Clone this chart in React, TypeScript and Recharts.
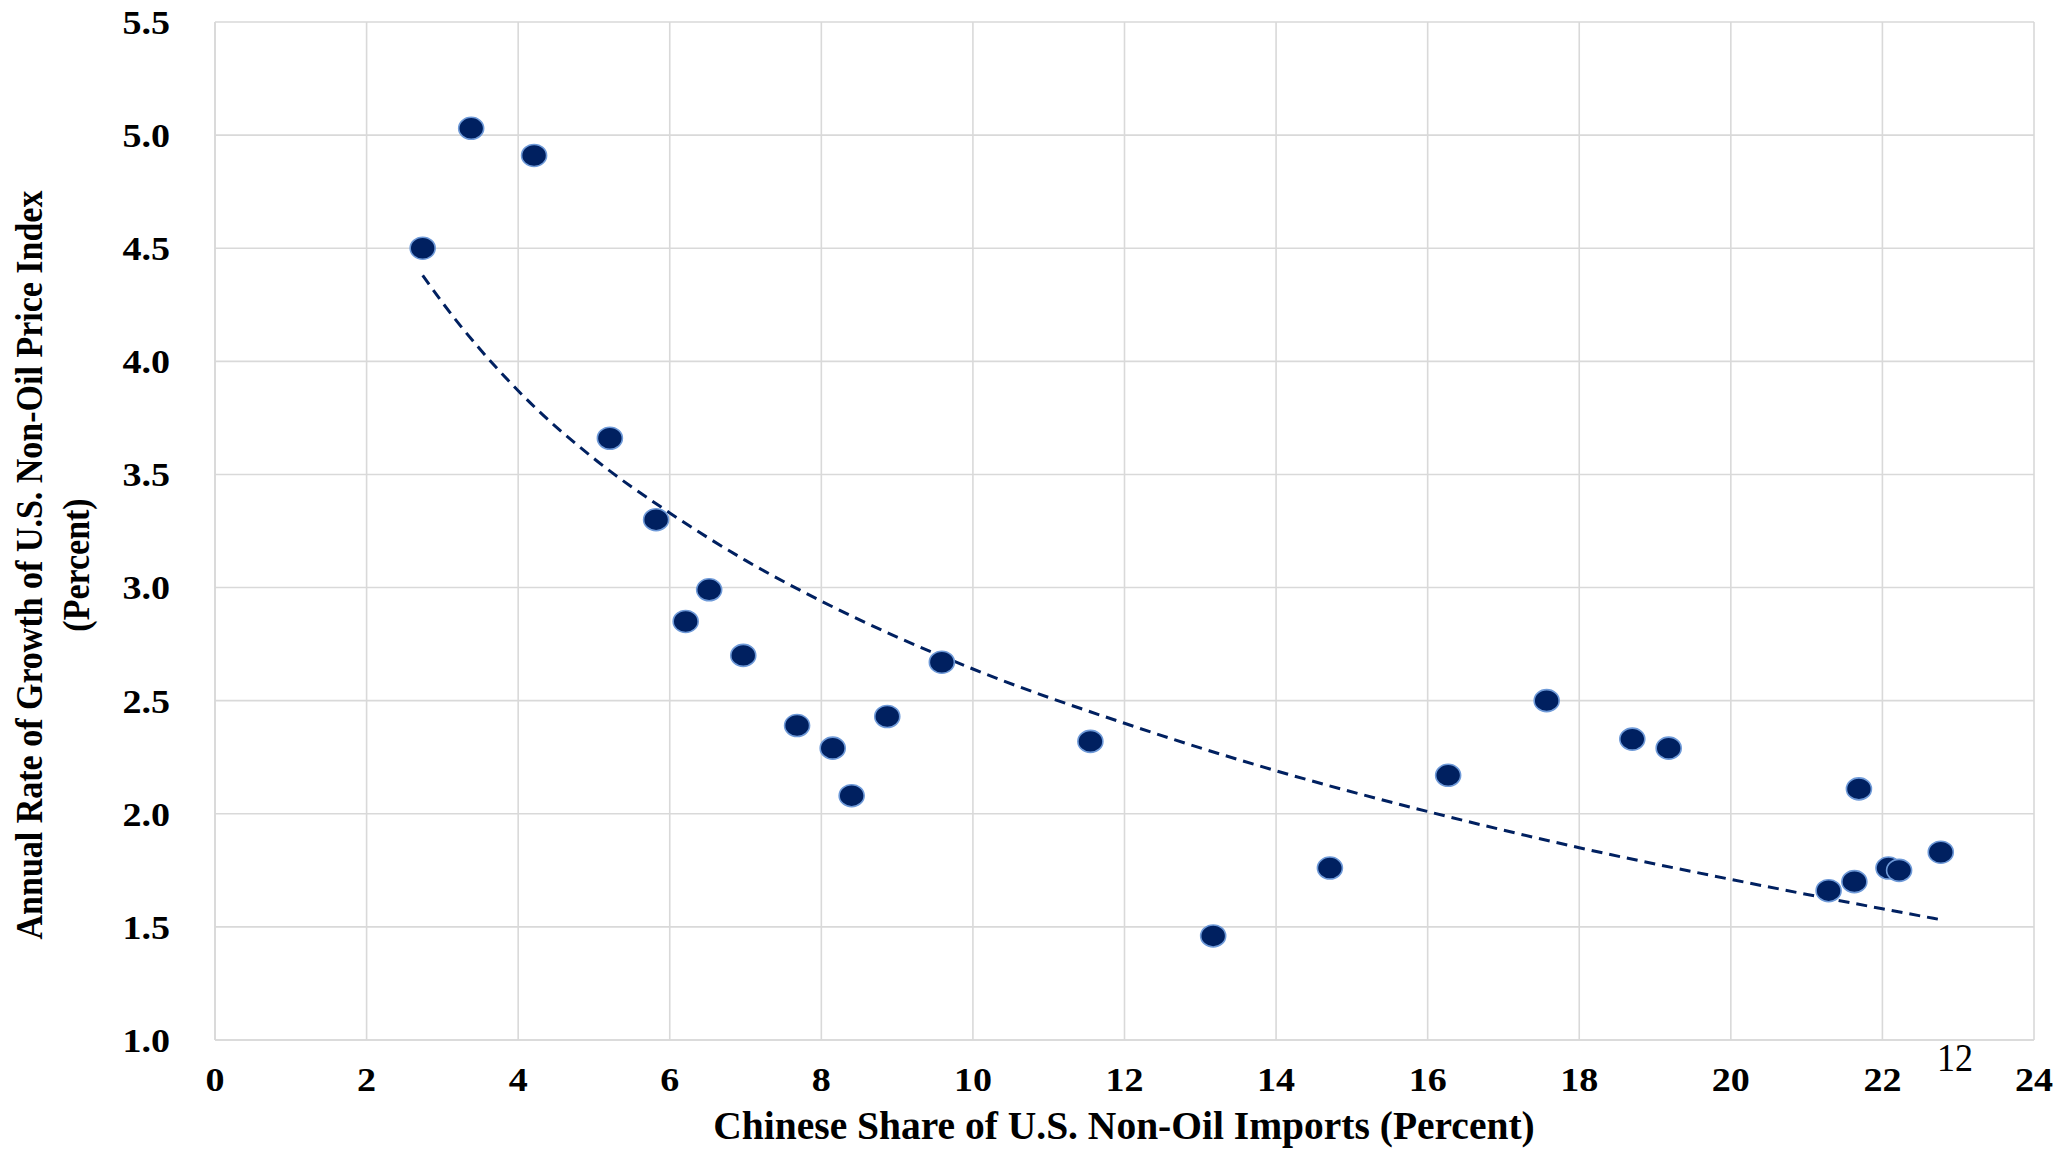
import React from 'react'
import {
  ScatterChart,
  Scatter,
  XAxis,
  YAxis,
  CartesianGrid,
  Label,
} from 'recharts'

// Chinese share of U.S. non-oil imports (%) vs. growth of non-oil price index (%)
const shareX = [
  2.74, 3.38, 4.21, 5.21, 5.82, 6.21, 6.52, 6.97, 7.68, 8.15, 8.4, 8.87, 9.59,
  11.55, 13.17, 14.71, 16.27, 17.57, 18.7, 19.18, 21.29, 21.63, 21.69, 22.08,
  22.22, 22.77,
]
const growthY = [
  4.5, 5.03, 4.91, 3.66, 3.3, 2.85, 2.99, 2.7, 2.39, 2.29, 2.08, 2.43, 2.67,
  2.32, 1.46, 1.76, 2.17, 2.5, 2.33, 2.29, 1.66, 1.7, 2.11, 1.76, 1.75, 1.83,
]

// dashed trend line
const trendX = [2.74, 3, 4, 5, 6, 7, 8, 10, 12, 14, 16, 18, 20, 22, 22.8]
const trendY = [
  4.38, 4.26, 3.87, 3.57, 3.33, 3.12, 2.94, 2.64, 2.4, 2.19, 2.01, 1.85, 1.71,
  1.58, 1.53,
]

const xTicks = [0, 2, 4, 6, 8, 10, 12, 14, 16, 18, 20, 22, 24]
const yTicks = [1.0, 1.5, 2.0, 2.5, 3.0, 3.5, 4.0, 4.5, 5.0, 5.5]

const points = shareX.map((x, i) => ({ x, y: growthY[i] }))
const trend = trendX.map((x, i) => ({ x, y: trendY[i] }))

const serif = "'Liberation Serif', 'Times New Roman', serif"
const navy = '#002060'
const grid = '#d9d9d9'
// the original picture is a little stretched sideways
const SX = 1.12

const XTick = (props: any) => {
  const { x, y, payload } = props
  return (
    <text
      transform={`translate(${x},${y}) scale(${SX},1)`}
      textAnchor='middle'
      dy='0.71em'
      fontFamily={serif}
      fontSize={34}
      fontWeight={700}
      fill='#000'
    >
      {payload.value}
    </text>
  )
}

const YTick = (props: any) => {
  const { x, y, payload } = props
  return (
    <text
      transform={`translate(${x},${y}) scale(${SX},1)`}
      textAnchor='end'
      dy='0.35em'
      fontFamily={serif}
      fontSize={34}
      fontWeight={700}
      fill='#000'
    >
      {Number(payload.value).toFixed(1)}
    </text>
  )
}

const Dot = (props: any) => {
  const { cx, cy } = props
  if (cx == null || cy == null) return <g />
  return (
    <ellipse
      cx={cx}
      cy={cy}
      rx={12.5}
      ry={11}
      fill={navy}
      stroke='#6f9ad8'
      strokeWidth={1.6}
    />
  )
}

const NoDot = () => <g />

const XTitle = () => (
  <text
    x={1124}
    y={1139}
    textAnchor='middle'
    fontFamily={serif}
    fontSize={39.5}
    fontWeight={700}
    fill='#000'
  >
    Chinese Share of U.S. Non-Oil Imports (Percent)
  </text>
)

const YTitle = () => (
  <g fontFamily={serif} fontSize={34} fontWeight={700} fill='#000'>
    <text
      textAnchor='middle'
      transform={`translate(42,565) scale(${SX},1) rotate(-90)`}
    >
      Annual Rate of Growth of U.S. Non-Oil Price Index
    </text>
    <text
      textAnchor='middle'
      transform={`translate(89,565) scale(${SX},1) rotate(-90)`}
    >
      (Percent)
    </text>
  </g>
)

const App: React.FC = () => {
  return (
    <div
      style={{
        position: 'absolute',
        left: 0,
        top: 0,
        width: 2055,
        height: 1151,
        background: '#fff',
      }}
    >
      <ScatterChart
        width={2055}
        height={1151}
        margin={{ top: 22, right: 21, bottom: 0, left: 0 }}
      >
        <CartesianGrid stroke={grid} strokeWidth={1.6} />
        <XAxis
          type='number'
          dataKey='x'
          domain={[0, 24]}
          ticks={xTicks}
          interval={0}
          height={111}
          tickSize={0}
          tickMargin={27}
          axisLine={{ stroke: grid, strokeWidth: 1.6 }}
          tickLine={false}
          tick={<XTick />}
        >
          <Label content={<XTitle />} />
        </XAxis>
        <YAxis
          type='number'
          dataKey='y'
          domain={[1, 5.5]}
          ticks={yTicks}
          interval={0}
          width={215}
          tickSize={0}
          tickMargin={45}
          axisLine={{ stroke: grid, strokeWidth: 1.6 }}
          tickLine={false}
          tick={<YTick />}
        >
          <Label content={<YTitle />} />
        </YAxis>
        <Scatter
          data={trend}
          shape={NoDot}
          line={{ stroke: navy, strokeWidth: 3, strokeDasharray: '11 7' }}
          lineJointType='monotoneX'
          isAnimationActive={false}
        />
        <Scatter data={points} shape={Dot} isAnimationActive={false} />
      </ScatterChart>
      <svg
        width={2055}
        height={1151}
        style={{ position: 'absolute', left: 0, top: 0, pointerEvents: 'none' }}
      >
        <text
          transform='translate(1955,1071) scale(0.9,1)'
          textAnchor='middle'
          fontFamily={serif}
          fontSize={40}
          fill='#000'
        >
          12
        </text>
      </svg>
    </div>
  )
}

export default App
